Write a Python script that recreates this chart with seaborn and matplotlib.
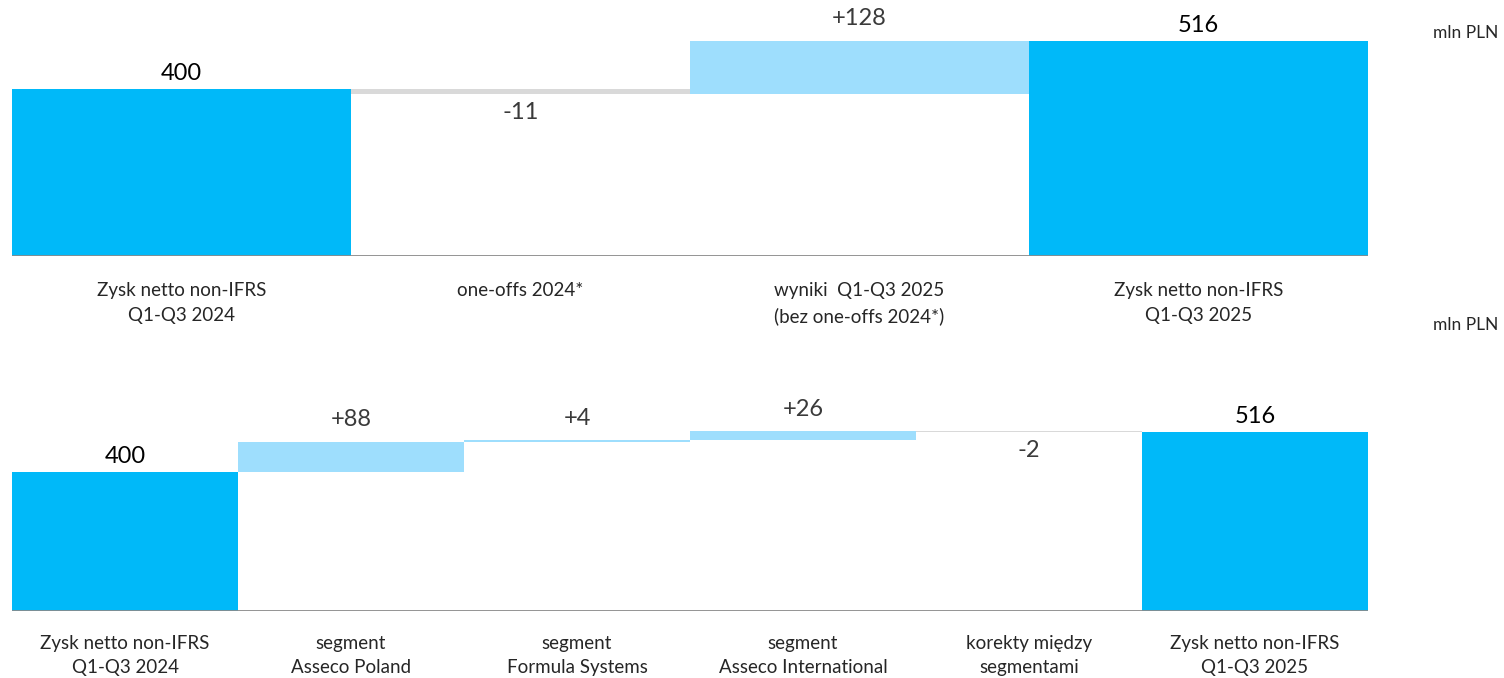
import matplotlib
matplotlib.use("Agg")
import matplotlib.pyplot as plt
import seaborn as sns

# top waterfall
top_cats = ["Zysk netto non-IFRS\nQ1-Q3 2024", "one-offs 2024*",
            "wyniki  Q1-Q3 2025\n(bez one-offs 2024*)", "Zysk netto non-IFRS\nQ1-Q3 2025"]
top_start = 400
top_deltas = [-11, 128]
top_end = 516

# bottom waterfall
bot_cats = ["Zysk netto non-IFRS\nQ1-Q3 2024", "segment\nAsseco Poland", "segment\nFormula Systems",
            "segment\nAsseco International", "korekty między\nsegmentami", "Zysk netto non-IFRS\nQ1-Q3 2025"]
bot_start = 400
bot_deltas = [88, 4, 26, -2]
bot_end = 516

unit = "mln PLN"

BLUE = "#00B9F9"
LIGHT = "#9EDEFD"
GREY = "#D9D9D9"

sns.set_style("white")
plt.rcParams["font.family"] = ["Lato", "DejaVu Sans"]


def waterfall(ax, cats, start, deltas, end, pad):
    tops, bases, colors = [start], [0], [BLUE]
    run = start
    for d in deltas:
        new = run + d
        tops.append(max(run, new))
        bases.append(min(run, new))
        colors.append(LIGHT if d > 0 else GREY)
        run = new
    tops.append(end)
    bases.append(0)
    colors.append(BLUE)

    sns.barplot(x=cats, y=tops, hue=cats, palette=colors, legend=False, width=1.0,
                saturation=1, linewidth=0, ax=ax)
    sns.barplot(x=cats, y=bases, color="white", width=1.0, saturation=1, linewidth=0, ax=ax)
    ax.axhline(0, color="#8a8a8a", lw=2, zorder=5)

    for i, (t, b) in enumerate(zip(tops, bases)):
        if i == 0 or i == len(tops) - 1:
            ax.annotate(f"{t}", (i, t), xytext=(0, 3.5), textcoords="offset points",
                        ha="center", va="bottom", fontsize=17, color="black")
        else:
            d = deltas[i - 1]
            if d > 0:
                ax.annotate(f"+{d}", (i, t), xytext=(0, 8.5), textcoords="offset points",
                            ha="center", va="bottom", fontsize=17, color="#3a3a3a")
            else:
                ax.annotate(f"{d}", (i, b), xytext=(0, -5.5), textcoords="offset points",
                            ha="center", va="top", fontsize=17, color="#3a3a3a")

    ax.set_xlim(-0.5, len(cats) - 0.5)
    ax.set_ylim(0, 600)
    ax.set_yticks([])
    ax.set_ylabel("")
    ax.tick_params(axis="x", length=0, pad=pad, labelsize=13.5, colors="#262626")
    for lbl in ax.get_xticklabels():
        lbl.set_linespacing(1.55)
    sns.despine(ax=ax, left=True, bottom=True)


fig = plt.figure(figsize=(15.04, 6.78), dpi=100)
ax1 = fig.add_axes([12 / 1504, 422 / 678, 1356 / 1504, 250 / 678])
ax2 = fig.add_axes([12 / 1504, 67 / 678, 1356 / 1504, 208 / 678])

waterfall(ax1, top_cats, top_start, top_deltas, top_end, pad=19)
waterfall(ax2, bot_cats, bot_start, bot_deltas, bot_end, pad=17)

fig.text(1466 / 1504, 1 - 33 / 678, unit, ha="center", va="center", fontsize=12.5, color="#262626")
fig.text(1466 / 1504, 1 - 325 / 678, unit, ha="center", va="center", fontsize=12.5, color="#262626")

fig.savefig("out.png", dpi=100)
